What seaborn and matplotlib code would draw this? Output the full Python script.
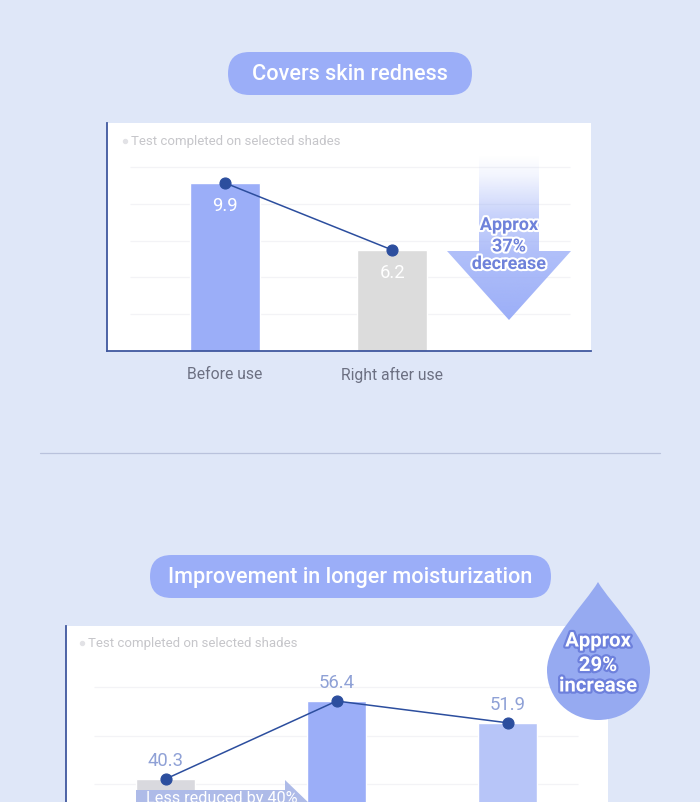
import numpy as np
import pandas as pd
import matplotlib.pyplot as plt
import matplotlib.patheffects as pe
from matplotlib.patches import FancyBboxPatch, PathPatch, Polygon
from matplotlib.path import Path
import seaborn as sns

# Chart data
redness_labels = ['Before use', 'Right after use']
redness_values = [9.9, 6.2]
redness_grid = [10.78, 8.74, 6.7, 4.7, 2.65]

moisture_labels = ['Group 1', 'Group 2', 'Group 3']  # cut off in the picture, never shown
moisture_values = [40.3, 56.4, 51.9]
moisture_grid = [59.3, 49.2, 39.3]

BG = '#DFE7F8'
BLUE = '#9BAEF8'
GREY = '#DCDCDC'
LIGHT = '#B7C5F8'
NAVY = '#2C4E9E'
AXIS = '#40589F'

W, H = 700, 802

sns.set_theme(style='white')
plt.rcParams['font.family'] = ['Roboto', 'DejaVu Sans']

fig = plt.figure(figsize=(W / 100, H / 100), dpi=100, facecolor=BG)


def px(size):
    return size * 0.72


def panel(left, top, right, bottom):
    ax = fig.add_axes([left / W, 1 - bottom / H, (right - left) / W, (bottom - top) / H])
    ax.set_facecolor('white')
    return ax


def draw_chart(ax, labels, values, colors, width, xlim, ylim, grid, grid_span):
    df = pd.DataFrame({'label': labels, 'value': values})
    sns.barplot(data=df, x='label', y='value', hue='label', palette=colors, width=width,
                dodge=False, legend=False, saturation=1, ax=ax, zorder=2)
    sns.pointplot(data=df, x='label', y='value', color=NAVY, markers='o', markersize=px(11),
                  linewidth=1.1, errorbar=None, ax=ax, zorder=3)
    ax.hlines(grid, grid_span[0], grid_span[1], color='#F3F3F6', lw=0.9, zorder=0)
    ax.set_xlim(xlim)
    ax.set_ylim(ylim)
    ax.set_xlabel('')
    ax.set_ylabel('')
    ax.set_yticks([])


# Covers skin redness
ax1 = panel(107, 123, 591, 351)
draw_chart(ax1, redness_labels, redness_values, [BLUE, GREY], 0.418,
           (-0.707, 2.191), (0.615, 13.215), redness_grid, (-0.57, 2.065))
sns.despine(ax=ax1)
for side in ['left', 'bottom']:
    ax1.spines[side].set_color(AXIS)
    ax1.spines[side].set_linewidth(1.3)
ax1.tick_params(axis='x', length=0, pad=11.5, labelsize=px(15.7), labelcolor='#6C7082')
for i, v in enumerate(redness_values):
    ax1.annotate(f'{v}', (i, v), xytext=(0, -px(23)), textcoords='offset points',
                 ha='center', va='center', color='white', fontsize=px(18.5))
ax1.text(24 / 484, 1 - 18.5 / 228, 'Test completed on selected shades', transform=ax1.transAxes,
         ha='left', va='center', color='#C6C6CA', fontsize=px(13.3))

# Improvement in longer moisturization
ax2 = panel(66, 626, 608, 802)
draw_chart(ax2, moisture_labels, moisture_values, ['#D9D9DE', BLUE, LIGHT], 0.345,
           (-0.583, 2.587), (35.54, 71.9), moisture_grid, (-0.42, 2.41))
sns.despine(ax=ax2, bottom=True)
ax2.spines['left'].set_color(AXIS)
ax2.spines['left'].set_linewidth(1.3)
ax2.set_xticks([])
for i, v in enumerate(moisture_values):
    ax2.annotate(f'{v}', (i, v), xytext=(0, px(18)), textcoords='offset points',
                 ha='center', va='center', color='#8FA1D6', fontsize=px(18.5))
ax2.text(22 / 542, 1 - 17.5 / 176, 'Test completed on selected shades', transform=ax2.transAxes,
         ha='left', va='center', color='#C6C6CA', fontsize=px(13.3))

# Overlay in pixel coordinates for the decorations
top = fig.add_axes([0, 0, 1, 1], facecolor='none')
top.set_xlim(0, W)
top.set_ylim(H, 0)
top.axis('off')

top.plot([124.5], [141], 'o', color='#E2E2E6', ms=px(4))
top.plot([82], [643], 'o', color='#E2E2E6', ms=px(4))
top.plot([40, 660], [453, 453], color='#B9C2DC', lw=0.9)

# Title pills
for (x0, x1, y0, y1, title, size) in [(228, 472, 52, 95, 'Covers skin redness', 21.6),
                                      (150, 551, 555, 598, 'Improvement in longer moisturization', 21.6)]:
    r = (y1 - y0) / 2
    top.add_patch(FancyBboxPatch((x0 + r, y0 + r), x1 - x0 - 2 * r, 0,
                                 boxstyle=f'round,pad={r - 0.01},rounding_size={r}',
                                 fc=BLUE, ec='none'))
    top.text((x0 + x1) / 2, (y0 + y1) / 2 + 1.5, title, color='white', fontsize=px(size),
             ha='center', va='center', fontweight='medium')

# Down arrow with a fade towards the top
arrow = Polygon([(479, 155), (539, 155), (539, 251), (571, 251), (509, 320), (447, 251), (479, 251)],
                closed=True, fc='none', ec='none', transform=top.transData)
top.add_patch(arrow)
stops_y = np.array([155, 175, 215, 251, 320])
stops_a = np.array([0.0, 0.12, 0.55, 0.78, 1.0])
ys = np.linspace(155, 320, 200)
fade = np.ones((200, 1, 4))
fade[..., :3] = np.array([0x9B, 0xAE, 0xF8]) / 255
fade[:, 0, 3] = np.interp(ys, stops_y, stops_a)
im = top.imshow(fade, extent=(447, 571, 320, 155), aspect='auto', zorder=2)
im.set_clip_path(arrow)
top.set_xlim(0, W)
top.set_ylim(H, 0)

outline = [pe.withStroke(linewidth=3, foreground='white')]
for y, s in [(225, 'Approx'), (246.5, '37%'), (264, 'decrease')]:
    top.text(509, y, s, color='#6F82DA', fontsize=px(18), fontweight='bold', ha='center',
             va='center', path_effects=outline, zorder=4)

# Water drop
drop = Path([(598, 582), (585, 604), (547, 640), (547, 670), (547, 699), (570, 720), (598, 720),
             (627, 720), (650, 699), (650, 670), (650, 640), (611, 604), (598, 582)],
            [Path.MOVETO] + [Path.CURVE4] * 12)
top.add_patch(PathPatch(drop, fc='#96AAF1', ec='none', zorder=3))
outline2 = [pe.withStroke(linewidth=3.2, foreground='#6D80DC')]
for y, s in [(641, 'Approx'), (665.5, '29%'), (686, 'increase')]:
    top.text(598, y, s, color='white', fontsize=px(20.3), fontweight='bold', ha='center',
             va='center', path_effects=outline2, zorder=4)

# Callout arrow, cut off by the bottom edge
top.add_patch(Polygon([(136, 790), (285, 790), (285, 780), (312, 806), (136, 806)],
                      closed=True, fc='#AEBBE8', ec='none', zorder=2, clip_on=True))
top.text(222, 799, 'Less reduced by 40%', color='white', fontsize=px(16.2), ha='center',
         va='center', zorder=4)

fig.savefig('out.png', dpi=100, facecolor=BG)
